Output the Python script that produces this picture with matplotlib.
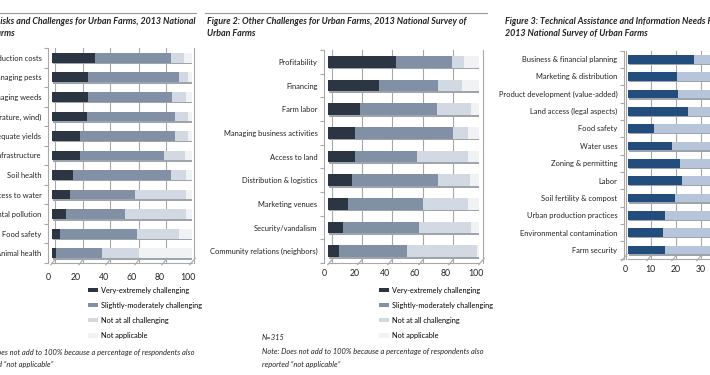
import numpy as np
import matplotlib.pyplot as plt
from matplotlib.lines import Line2D
from matplotlib.transforms import ScaledTranslation

plt.rcParams['font.family'] = ['Lato', 'DejaVu Sans']

# Figure 1: risks and challenges (percent of farms)
risk_labels = ['Production costs', 'Managing pests', 'Managing weeds',
               'Weather (temperature, wind)', 'Inadequate yields', 'Infrastructure',
               'Soil health', 'Access to water', 'Environmental pollution',
               'Food safety', 'Animal health']
risk_very = [31, 26, 26, 25, 20, 20, 15, 13, 10, 6, 3]
risk_slight = [54, 65, 60, 63, 68, 60, 70, 46, 42, 55, 33]
risk_not = [9, 6, 10, 9, 9, 15, 11, 37, 44, 30, 26]
risk_na = [6, 3, 4, 3, 3, 5, 4, 4, 4, 9, 38]

# Figure 2: other challenges
other_labels = ['Profitability', 'Financing', 'Farm labor', 'Managing business activities',
                'Access to land', 'Distribution & logistics', 'Marketing venues',
                'Security/vandalism', 'Community relations (neighbors)']
other_very = [45, 34, 21, 18, 18, 16, 13, 10, 7]
other_slight = [37, 39, 51, 65, 41, 57, 50, 50, 45]
other_not = [8, 16, 23, 10, 34, 21, 30, 35, 47]
other_na = [10, 11, 5, 7, 7, 6, 7, 5, 1]

# Figure 3: technical assistance needs
need_labels = ['Business & financial planning', 'Marketing & distribution',
               'Product development (value-added)', 'Land access (legal aspects)',
               'Food safety', 'Water uses', 'Zoning & permitting', 'Labor',
               'Soil fertility & compost', 'Urban production practices',
               'Environmental contamination', 'Farm security']
need_high = [26, 19.5, 20, 24, 10.5, 17.5, 20.5, 21.5, 18.5, 14.5, 14, 14.5]
need_some = [40, 42, 38, 35, 40, 41, 38, 36, 40, 42, 38, 35]

legend_labels = ['Very-extremely challenging', 'Slightly-moderately challenging',
                 'Not at all challenging', 'Not applicable']
grey_colors = ['#2c3542', '#8290a6', '#d3d9e2', '#f1f2f4']
blue_colors = ['#234d7d', '#b7c5da']

W, H = 710, 375
fig = plt.figure(figsize=(W / 100, H / 100), dpi=100)


def px_axes(left, top, width, height):
    return fig.add_axes([left / W, 1 - (top + height) / H, width / W, height / H])


def shift(dx, dy=0):
    return ScaledTranslation(dx / 100, dy / 100, fig.dpi_scale_trans)


def draw_panel(ax, cats, series, colors, xmax, step, grid_dx, tick_dx, ypad):
    n = len(cats)
    y = np.arange(n)
    total = np.sum(series, axis=0)
    # shadow under each bar for the 3d look
    sh = ax.barh(y, total, height=0.5, color='#9ea4ab', linewidth=0, zorder=1.5)
    for p in sh:
        p.set_transform(ax.transData + shift(1.2, -1.5))
    left = np.zeros(n)
    handles = []
    for vals, c in zip(series, colors):
        b = ax.barh(y, vals, left=left, height=0.5, color=c, linewidth=0, zorder=2)
        left = left + np.array(vals)
        handles.append(b)
    ticks = np.arange(0, xmax + 0.1, step)
    for v in ticks:
        ax.add_line(Line2D([v, v], [0, 1], color='#a8a8a8', lw=0.8, zorder=0.5,
                           transform=ax.get_xaxis_transform() + shift(grid_dx),
                           clip_on=False))
    ax.plot(ticks, np.zeros(len(ticks)), linestyle='none', marker=(2, 0, -40),
            markersize=7, color='#a8a8a8', mew=0.8, clip_on=False,
            transform=ax.get_xaxis_transform() + shift(grid_dx - 2, 2))
    ax.set_xlim(0, xmax)
    ax.set_ylim(n - 0.5, -0.5)
    ax.set_xticks(ticks)
    ax.set_xticklabels([str(int(t)) for t in ticks])
    ax.set_yticks(y)
    ax.set_yticklabels(cats)
    ax.set_yticks(np.arange(n + 1) - 0.5, minor=True)
    ax.tick_params(axis='y', which='major', length=0, pad=4.6, labelsize=5.45,
                   labelcolor='#222222')
    ax.tick_params(axis='y', which='minor', length=3, width=0.8, color='#a8a8a8')
    ax.tick_params(axis='x', length=0, pad=ypad, labelsize=6.3, labelcolor='#222222')
    for lab in ax.get_xticklabels():
        lab.set_transform(lab.get_transform() + shift(tick_dx))
    for s in ['top', 'right']:
        ax.spines[s].set_visible(False)
    ax.spines['left'].set_color('#a8a8a8')
    ax.spines['left'].set_position(('outward', 3))
    ax.spines['bottom'].set_color('#a8a8a8')
    ax.patch.set_alpha(0)
    return handles


def draw_legend(ax, handles, x, y):
    ax.legend(handles, legend_labels, loc='upper left', bbox_to_anchor=(x / W, 1 - y / H),
              bbox_transform=fig.transFigure, frameon=False, fontsize=5.3,
              handlelength=1.35, handleheight=0.6, handletextpad=0.45,
              labelspacing=1.1, borderpad=0, borderaxespad=0)


title_font = dict(family=['Liberation Sans Narrow', 'Lato'], fontsize=6.4,
                  fontweight='bold', fontstyle='italic', color='#222222')
note_font = dict(fontsize=5.4, fontstyle='italic', color='#222222')

# panel 1
ax1 = px_axes(52, 48, 140, 215)
h1 = draw_panel(ax1, risk_labels, [risk_very, risk_slight, risk_not, risk_na],
                grey_colors, 100, 20, 2.5, -4, 7)
draw_legend(ax1, h1, 88, 286.5)
fig.add_artist(Line2D([0, 196 / W], [1 - 13 / H] * 2, color='#999999', lw=0.8))
fig.text(195 / W, 1 - 21 / H, 'Figure 1: Risks and Challenges for Urban Farms, 2013 National',
         ha='right', va='center', **title_font)
fig.text(15 / W, 1 - 33 / H, 'Survey of Urban Farms', ha='right', va='center', **title_font)
fig.text(194 / W, 1 - 352 / H,
         'Note: Does not add to 100% because a percentage of respondents also',
         ha='right', va='center', **note_font)
fig.text(53 / W, 1 - 364 / H, 'reported \u201cnot applicable\u201d', ha='right', va='center',
         **note_font)

# panel 2
ax2 = px_axes(328, 50, 151, 213)
h2 = draw_panel(ax2, other_labels, [other_very, other_slight, other_not, other_na],
                grey_colors, 100, 20, 4, -3.5, 4.5)
draw_legend(ax2, h2, 379, 286.5)
fig.add_artist(Line2D([205 / W, 487 / W], [1 - 13 / H] * 2, color='#999999', lw=0.8))
fig.text(207 / W, 1 - 21 / H,
         'Figure 2: Other Challenges for Urban Farms, 2013 National Survey of',
         ha='left', va='center', **title_font)
fig.text(207 / W, 1 - 33 / H, 'Urban Farms', ha='left', va='center', **title_font)
fig.text(262 / W, 1 - 338 / H, 'N=315', ha='left', va='center', **note_font)
fig.text(262 / W, 1 - 351.5 / H,
         'Note: Does not add to 100% because a percentage of respondents also',
         ha='left', va='center', **note_font)
fig.text(262 / W, 1 - 364 / H, 'reported \u201cnot applicable\u201d', ha='left',
         va='center', **note_font)

# panel 3 (runs past the right edge)
ax3 = px_axes(628, 50.5, 176.4, 208)
draw_panel(ax3, need_labels, [need_high, need_some], blue_colors, 70, 10, -2.3, -2.5, 5)
fig.text(505 / W, 1 - 21 / H,
         'Figure 3: Technical Assistance and Information Needs For Urban Farms,',
         ha='left', va='center', **title_font)
fig.text(505 / W, 1 - 33 / H, '2013 National Survey of Urban Farms', ha='left',
         va='center', **title_font)

fig.savefig('out.png', dpi=100)
